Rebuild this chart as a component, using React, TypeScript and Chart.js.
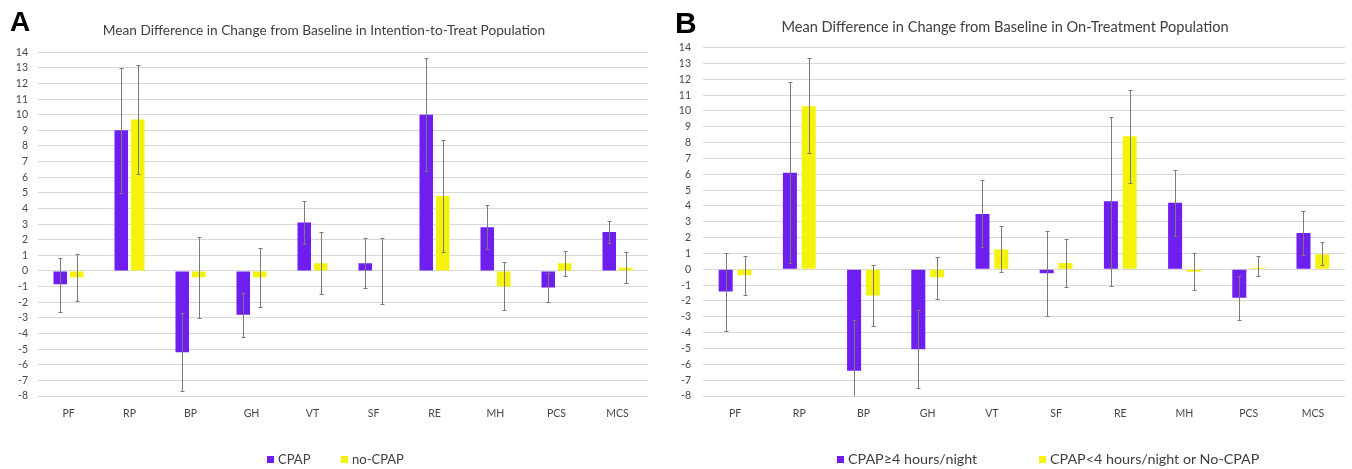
import React, { useEffect, useRef } from "react";
import { Chart, registerables } from "chart.js";

Chart.register(...registerables);

// ---------- Data ----------
const categories = ["PF", "RP", "BP", "GH", "VT", "SF", "RE", "MH", "PCS", "MCS"];

const titleA = "Mean Difference in Change from Baseline in Intention-to-Treat Population";
const titleB = "Mean Difference in Change from Baseline in On-Treatment Population";

const seriesNamesA = ["CPAP", "no-CPAP"];
const seriesNamesB = ["CPAP\u22654 hours/night", "CPAP<4 hours/night or No-CPAP"];

// Panel A (Intention-to-Treat)
const cpapA = [-0.85, 9.0, -5.2, -2.8, 3.1, 0.5, 10.0, 2.8, -1.05, 2.5];
const cpapAHigh = [0.8, 13.0, -2.7, -1.4, 4.5, 2.1, 13.6, 4.2, -0.1, 3.2];
const cpapALow = [-2.6, 5.0, -7.7, -4.2, 1.7, -1.1, 6.4, 1.4, -2.0, 1.8];
const noCpapA = [-0.4, 9.7, -0.4, -0.4, 0.5, 0, 4.8, -1.0, 0.5, 0.2];
const noCpapAHigh = [1.1, 13.2, 2.2, 1.5, 2.5, 2.1, 8.4, 0.55, 1.3, 1.2];
const noCpapALow = [-1.9, 6.2, -3.0, -2.3, -1.5, -2.1, 1.2, -2.5, -0.3, -0.8];

// Panel B (On-Treatment)
const cpapB = [-1.4, 6.1, -6.4, -5.05, 3.5, -0.25, 4.3, 4.2, -1.8, 2.3];
const cpapBHigh = [1.05, 11.85, -3.2, -2.6, 5.65, 2.45, 9.6, 6.3, -0.4, 3.7];
const cpapBLow = [-3.9, 0.4, -9.6, -7.5, 1.4, -2.95, -1.05, 2.1, -3.2, 0.9];
const noCpapB = [-0.37, 10.3, -1.65, -0.5, 1.25, 0.4, 8.4, -0.15, 0.1, 0.95];
const noCpapBHigh = [0.85, 13.35, 0.27, 0.75, 2.75, 1.9, 11.3, 1.05, 0.85, 1.75];
const noCpapBLow = [-1.65, 7.35, -3.55, -1.85, -0.2, -1.1, 5.45, -1.3, -0.45, 0.3];

const yMin = -8;
const yMax = 14;

// ---------- Styles ----------
const PURPLE = "#6f1ef0";
const YELLOW = "#f5f20c";
const FONT = "Lato, 'Open Sans', sans-serif";
const TEXT = "#404040";
const TICK = "#474747";
const GRID = "#d9d9d9";
const ERR = "#7a7a7a";

const errorBarPlugin = {
  id: "errorBars",
  afterDatasetsDraw(chart: any, _args: any, opts: any) {
    const { ctx, chartArea } = chart;
    const yScale = chart.scales.y;
    const highs: number[][] = opts.highs || [];
    const lows: number[][] = opts.lows || [];
    ctx.save();
    ctx.beginPath();
    ctx.rect(chartArea.left, chartArea.top - 2, chartArea.right - chartArea.left, chartArea.bottom - chartArea.top + 2);
    ctx.clip();
    ctx.strokeStyle = ERR;
    ctx.lineWidth = 1;
    chart.data.datasets.forEach((_ds: any, d: number) => {
      const meta = chart.getDatasetMeta(d);
      meta.data.forEach((bar: any, i: number) => {
        if (highs[d] == null || lows[d] == null) return;
        const x = Math.round(bar.x) + 0.5;
        const yH = Math.round(yScale.getPixelForValue(highs[d][i])) + 0.5;
        const yL = Math.round(yScale.getPixelForValue(lows[d][i])) + 0.5;
        ctx.beginPath();
        ctx.moveTo(x, yH);
        ctx.lineTo(x, yL);
        ctx.moveTo(x - 2, yH);
        ctx.lineTo(x + 2, yH);
        ctx.moveTo(x - 2, yL);
        ctx.lineTo(x + 2, yL);
        ctx.stroke();
      });
    });
    ctx.restore();
  },
};

type PanelCfg = {
  title: string;
  names: string[];
  series: number[][];
  highs: number[][];
  lows: number[][];
  width: number;
  padRight: number;
  titleSize: number;
  titlePadTop: number;
  titlePadBottom: number;
  tickSize: number;
  yTickPad: number;
  catPct: number;
  barPct: number;
};

function BarPanel({ cfg }: { cfg: PanelCfg }) {
  const ref = useRef<HTMLCanvasElement | null>(null);
  useEffect(() => {
    if (!ref.current) return;
    const colors = [PURPLE, YELLOW];
    const chart = new Chart(ref.current, {
      type: "bar",
      data: {
        labels: categories,
        datasets: cfg.series.map((s, k) => ({
          label: cfg.names[k],
          data: s,
          backgroundColor: colors[k],
          borderWidth: 0,
          barPercentage: cfg.barPct,
          categoryPercentage: cfg.catPct,
        })),
      },
      options: {
        responsive: false,
        animation: false,
        layout: { padding: { left: 0, right: cfg.padRight, top: 0, bottom: 43 } },
        plugins: {
          legend: { display: false },
          tooltip: { enabled: false },
          title: {
            display: true,
            text: cfg.title,
            color: TEXT,
            font: { family: FONT, size: cfg.titleSize, weight: "normal" },
            padding: { top: cfg.titlePadTop, bottom: cfg.titlePadBottom },
          },
          errorBars: { highs: cfg.highs, lows: cfg.lows },
        } as any,
        scales: {
          x: {
            grid: { display: false, drawTicks: false },
            border: { display: false },
            ticks: { color: TICK, font: { family: FONT, size: cfg.tickSize }, padding: 11 },
            afterFit: (s: any) => {
              s.height = 30;
            },
          },
          y: {
            min: yMin,
            max: yMax,
            grid: { color: GRID, drawTicks: false, lineWidth: 1 },
            border: { display: false },
            ticks: {
              stepSize: 1,
              autoSkip: false,
              color: TICK,
              font: { family: FONT, size: cfg.tickSize },
              padding: cfg.yTickPad,
            },
            afterFit: (s: any) => {
              s.width = 38;
            },
          },
        },
      },
      plugins: [errorBarPlugin],
    });
    return () => chart.destroy();
  }, [cfg]);
  return <canvas ref={ref} width={cfg.width} height={469} style={{ display: "block", width: cfg.width, height: 469 }} />;
}

const cfgA: PanelCfg = {
  title: titleA,
  names: seriesNamesA,
  series: [cpapA, noCpapA],
  highs: [cpapAHigh, noCpapAHigh],
  lows: [cpapALow, noCpapALow],
  width: 660,
  padRight: 12,
  titleSize: 13.7,
  titlePadTop: 22.3,
  titlePadBottom: 13.5,
  tickSize: 10.5,
  yTickPad: 10,
  catPct: 0.541,
  barPct: 0.82,
};

const cfgB: PanelCfg = {
  title: titleB,
  names: seriesNamesB,
  series: [cpapB, noCpapB],
  highs: [cpapBHigh, noCpapBHigh],
  lows: [cpapBLow, noCpapBLow],
  width: 687,
  padRight: 7,
  titleSize: 14.6,
  titlePadTop: 18.7,
  titlePadBottom: 11.4,
  tickSize: 10.5,
  yTickPad: 12,
  catPct: 0.586,
  barPct: 0.745,
};

function LegendItem({ left, color, text, size }: { left: number; color: string; text: string; size: number }) {
  return (
    <div style={{ position: "absolute", left, top: 451, height: 16, display: "flex", alignItems: "center", whiteSpace: "nowrap" }}>
      <span style={{ display: "inline-block", width: 7, height: 7, background: color, marginRight: 4 }} />
      <span style={{ fontFamily: FONT, fontSize: size, color: TEXT, lineHeight: "16px" }}>{text}</span>
    </div>
  );
}

export default function App() {
  return (
    <div style={{ position: "absolute", left: 0, top: 0, width: 1352, height: 469, background: "#fff", overflow: "hidden" }}>
      <div style={{ position: "absolute", left: 0, top: 0 }}>
        <BarPanel cfg={cfgA} />
      </div>
      <div style={{ position: "absolute", left: 665, top: 0 }}>
        <BarPanel cfg={cfgB} />
      </div>
      <div style={{ position: "absolute", left: 10, top: 8, fontFamily: "'Liberation Sans', Arial, sans-serif", fontWeight: "bold", fontSize: 28, lineHeight: "28px", color: "#000" }}>A</div>
      <div style={{ position: "absolute", left: 675, top: 8, fontFamily: "'Liberation Sans', Arial, sans-serif", fontWeight: "bold", fontSize: 30, lineHeight: "30px", color: "#000" }}>B</div>
      <LegendItem left={267} color={PURPLE} text={seriesNamesA[0]} size={13} />
      <LegendItem left={341} color={YELLOW} text={seriesNamesA[1]} size={13} />
      <LegendItem left={837} color={PURPLE} text={seriesNamesB[0]} size={14.3} />
      <LegendItem left={1039} color={YELLOW} text={seriesNamesB[1]} size={14.3} />
    </div>
  );
}
